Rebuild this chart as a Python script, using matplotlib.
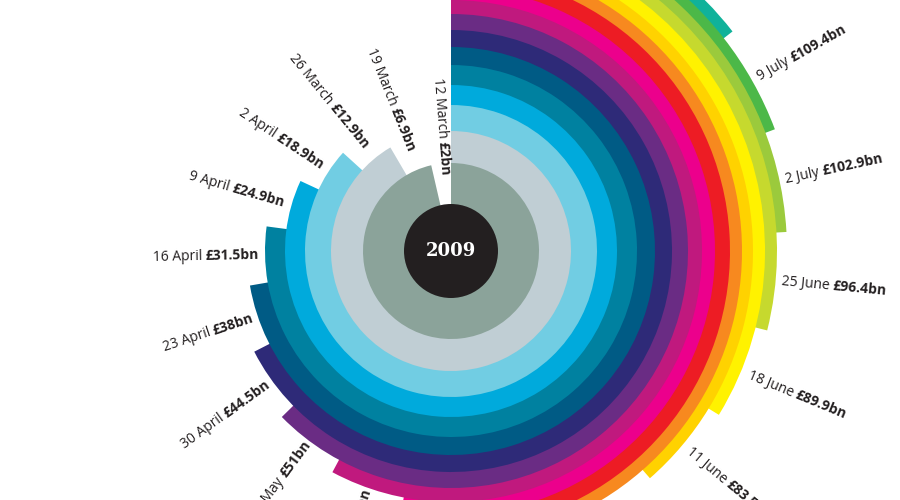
import matplotlib
matplotlib.use("Agg")
import matplotlib.pyplot as plt
from matplotlib.patches import Wedge, Circle
import numpy as np

dates = ["12 March", "19 March", "26 March", "2 April", "9 April", "16 April",
         "23 April", "30 April", "7 May", "14 May", "21 May", "28 May",
         "4 June", "11 June", "18 June", "25 June", "2 July", "9 July"]
values = ["£2bn", "£6.9bn", "£12.9bn", "£18.9bn", "£24.9bn", "£31.5bn", "£38bn",
          "£44.5bn", "£51bn", "£57.5bn", "£64bn", "£70.5bn", "£77bn", "£83.5bn",
          "£89.9bn", "£96.4bn", "£102.9bn", "£109.4bn"]
colors = ["#8ba39a", "#c0ced4", "#71cde3", "#00aadc", "#0081a0", "#005b85",
          "#2e2a78", "#6a2c84", "#c0197e", "#ec008c", "#ed1c24", "#f7891f",
          "#ffd200", "#fff200", "#c6d92e", "#9bca3c", "#4cb848", "#10b29a"]
outer_r = [88, 120, 146, 166, 186, 204, 221, 237, 251, 264, 279, 291, 302, 314,
           326, 336, 346, 357]

W, H = 900, 500
cx, cy = 451, 249
fig = plt.figure(figsize=(9, 5), dpi=100)
ax = fig.add_axes([0, 0, 1, 1])
ax.set_xlim(0, W); ax.set_ylim(0, H); ax.axis("off")

n = len(dates)
ends = [347 - 17.35 * i for i in range(n)]

for i in reversed(range(n)):
    e = ends[i]
    ax.add_patch(Wedge((cx, cy), outer_r[i], 90 - e, 90, color=colors[i], lw=0))
ax.add_patch(Circle((cx, cy), 47, color="#231f20", lw=0))
ax.text(cx, cy, "2009", color="white", fontsize=13, fontweight="bold",
        family="DejaVu Serif", ha="center", va="center")

fig.canvas.draw()
r = fig.canvas.get_renderer()
fam = "Open Sans"
fs = 10

def width(s, bold):
    t = ax.text(0, 0, s, fontsize=fs, family=fam, fontweight="bold" if bold else "normal")
    w = t.get_window_extent(r).width
    t.remove()
    return w

sp = width("a a", False) - width("aa", False)
for i in range(n):
    a = ends[i] + 8.5
    th = np.deg2rad(90 - a)
    right = a % 360 < 180
    r0 = outer_r[i] - (4 if right else 12)
    p0 = np.array([cx + r0 * np.cos(th), cy + r0 * np.sin(th)])
    wd = width(dates[i], False); wv = width(values[i], True)
    tot = wd + sp + wv
    out = np.array([np.cos(th), np.sin(th)])
    if right:
        u = out; rot = 90 - a
        s = p0
    else:
        u = -out; rot = 90 - a + 180
        s = p0 - tot * u
    ax.text(s[0], s[1], dates[i], fontsize=fs, family=fam, rotation=rot,
            rotation_mode="anchor", ha="left", va="center", color="#231f20")
    q = s + (wd + sp) * u
    ax.text(q[0], q[1], values[i], fontsize=fs, family=fam, fontweight="bold",
            rotation=rot, rotation_mode="anchor", ha="left", va="center", color="#231f20")

fig.savefig("out.png", dpi=100)
